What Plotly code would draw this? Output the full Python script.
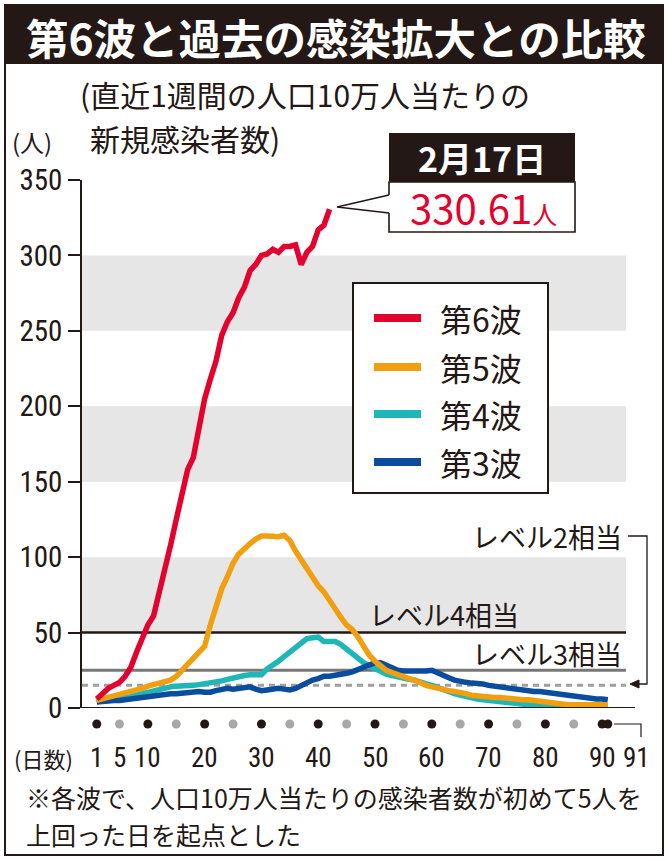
import plotly.graph_objects as go

# ---------------- data ----------------
series_names = ["第6波", "第5波", "第4波", "第3波"]
series_colors = ["#e5002d", "#f29f0f", "#1fb6b8", "#0a4d9e"]

wave6 = [6, 10, 13, 15, 17, 21, 27, 37, 47, 55,
         61, 76, 92, 108, 125, 142, 158, 166, 185, 205,
         218, 230, 247, 256, 262, 272, 279, 290, 294, 300,
         301, 304, 302, 306, 306, 307, 294, 302, 306, 317,
         320, 330.61]

wave5 = [5, 6, 7, 7.5, 8.5, 9.5, 11, 12, 13, 14.5,
         15.5, 16.5, 17.5, 18.5, 21, 25, 29, 33, 37, 41,
         55, 67, 79, 87, 96, 102, 106, 109, 112, 114,
         114, 113.5, 113.5, 114.5, 111, 104, 98, 93, 86, 81,
         77, 71, 66, 60, 55, 52, 47, 41, 35, 31,
         27.5, 25, 23.5, 22, 21, 19.5, 18.5, 16.5, 15, 14,
         13, 12.5, 11.5, 11, 10.5, 9.5, 8.5, 8, 7.5, 7.5,
         7, 7, 6.5, 6, 6, 5.5, 5.5, 5, 4.5, 3.5,
         3, 2.5, 2.3, 2.2, 2.2, 2.2, 2.2, 2.2, 2.2, 2.2,
         2.2]

wave4 = [4.5, 5, 5.5, 6, 6, 6.5, 7.5, 8.5, 9.5, 10.5,
         11, 12, 13, 14, 14.5, 14.5, 15, 15, 15.5, 16,
         16.5, 17, 18, 19, 20, 21, 21.5, 22, 22, 22,
         26, 28, 31, 34, 37, 41, 44, 46, 46.5, 47,
         44, 44, 44, 42, 39, 35, 33, 30, 28, 26,
         24, 22.5, 21.5, 20.5, 20, 19, 18.5, 17, 16, 15,
         13.5, 12.5, 11, 9.5, 8.5, 7.5, 6.5, 6, 5.5, 5,
         4.5, 4, 3.5, 3, 2.8, 2.5, 2.2, 2, 1.5, 1.2,
         1, 0.9, 0.9, 0.8, 0.8, 0.8, 0.8, 0.8, 0.8, 0.8,
         0.8]

wave3 = [4, 4.5, 4.5, 5, 5, 5.5, 6, 6.5, 7, 8,
         8.5, 9, 9, 9.5, 9.5, 10, 10, 10.5, 11, 10.5,
         10.5, 11.5, 12.5, 13, 12.5, 13, 13, 14, 12.5, 11.5,
         12, 12.5, 13, 12.5, 12, 13, 15, 17, 18.5, 19.5,
         21, 21, 21.5, 22, 23, 24, 25.5, 27, 28.5, 30,
         30, 28, 26, 25, 24.5, 24.5, 24, 24, 24.5, 25,
         23, 21.5, 20, 18.5, 17.5, 17, 16.5, 16.5, 16, 15,
         14.5, 13.5, 13, 12.5, 12, 12, 11.5, 11, 11, 10.5,
         10, 9, 8.5, 8, 7.5, 7, 6.5, 6.5, 6, 6,
         5.5]

level_values = [50, 25, 15]
level_names = ["レベル4相当", "レベル3相当", "レベル2相当"]
band_ranges = [(50, 100), (150, 200), (250, 300)]
y_ticks = [0, 50, 100, 150, 200, 250, 300, 350]
dot_days = [1, 5, 10, 15, 20, 25, 30, 35, 40, 45, 50, 55, 60, 65, 70, 75, 80, 85, 90, 91]
label_days = [1, 5, 10, 20, 30, 40, 50, 60, 70, 80, 90]
last_day_label = 91
latest_date = "2月17日"

# ---------------- geometry helpers ----------------
W_FIG, H_FIG = 669, 860
L, R, T = 82, 43, 180
AREA_BOTTOM = 745          # bottom of the whole plotting region (dot row included)
AXIS_ZERO = 708            # pixel row of y = 0
B = H_FIG - AREA_BOTTOM
PW = W_FIG - L - R
PH = AREA_BOTTOM - T

def px(x):
    return (x - L) / PW

def py(y):
    return (AREA_BOTTOM - y) / PH

CJK = "Noto Sans CJK JP"
NUM = "Liberation Sans Narrow, Roboto Condensed, Arial Narrow, Liberation Sans, sans-serif"
INK = "#231815"

fig = go.Figure()

waves = [wave6, wave5, wave4, wave3]
draw_order = [2, 3, 1, 0]
for i in draw_order:
    vals = waves[i]
    fig.add_trace(go.Scatter(
        x=list(range(1, len(vals) + 1)), y=vals, mode="lines",
        name=series_names[i], line=dict(color=series_colors[i], width=5.5),
        showlegend=False, hoverinfo="skip"))

# day dots below the axis (own small axis under the main one)
dot_colors = [INK if (d == 1 or d % 10 == 0 or d == last_day_label) else "#a8a8a8" for d in dot_days]
fig.add_trace(go.Scatter(
    x=dot_days, y=[-16] * len(dot_days), mode="markers", yaxis="y2",
    marker=dict(color=dot_colors, size=9, line=dict(width=0)),
    showlegend=False, hoverinfo="skip"))

shapes = []
for lo, hi in band_ranges:
    shapes.append(dict(type="rect", xref="paper", yref="y", x0=0, x1=1, y0=lo, y1=hi,
                       fillcolor="#e6e6e6", line=dict(width=0), layer="below"))
level_styles = [dict(color=INK, width=2.5), dict(color="#777777", width=3),
                dict(color="#a0a0a0", width=3, dash="6px,5px")]
for v, st in zip(level_values, level_styles):
    shapes.append(dict(type="line", xref="paper", yref="y", x0=0, x1=1, y0=v, y1=v,
                       line=st, layer="below"))
shapes.append(dict(type="line", xref="paper", yref="y", x0=px(70), x1=px(635), y0=0, y1=0,
                   line=dict(color=INK, width=2)))

def path(points, close=False):
    s = "M " + " L ".join(f"{px(a):.5f},{py(b):.5f}" for a, b in points)
    return s + (" Z" if close else "")

shapes.append(dict(type="path", xref="paper", yref="paper",
                   path=path([(628, 536), (647, 536), (647, 684), (636, 684)]),
                   line=dict(color=INK, width=1.3)))
shapes.append(dict(type="path", xref="paper", yref="paper",
                   path=path([(630, 684), (639, 680), (639, 688)], close=True),
                   fillcolor=INK, line=dict(color=INK, width=1)))
shapes.append(dict(type="path", xref="paper", yref="paper",
                   path=path([(614, 724), (641, 724), (641, 737)]),
                   line=dict(color=INK, width=1.2)))

# legend box
shapes.append(dict(type="rect", xref="paper", yref="paper", x0=px(353), x1=px(548),
                   y0=py(493), y1=py(283), fillcolor="white", line=dict(color=INK, width=2),
                   layer="above"))
legend_y = [318, 367, 414, 462]
for ly, c in zip(legend_y, series_colors):
    shapes.append(dict(type="line", xref="paper", yref="paper", x0=px(374), x1=px(421),
                       y0=py(ly), y1=py(ly), line=dict(color=c, width=8), layer="above"))

# callout
shapes.append(dict(type="rect", xref="paper", yref="paper", x0=px(389), x1=px(575),
                   y0=py(182), y1=py(133), fillcolor=INK, line=dict(width=0)))
shapes.append(dict(type="rect", xref="paper", yref="paper", x0=px(389), x1=px(575),
                   y0=py(232), y1=py(182), fillcolor="white", line=dict(width=0)))
shapes.append(dict(type="path", xref="paper", yref="paper",
                   path=path([(389, 195), (389, 182), (575, 182), (575, 232), (389, 232), (389, 213)]),
                   line=dict(color=INK, width=1.6)))
shapes.append(dict(type="path", xref="paper", yref="paper",
                   path=path([(389, 195), (337, 207), (389, 213)]),
                   line=dict(color=INK, width=1.6)))

# title bar and frame
shapes.append(dict(type="rect", xref="paper", yref="paper", x0=px(5), x1=px(663),
                   y0=py(64), y1=py(5), fillcolor=INK, line=dict(width=0)))
shapes.append(dict(type="rect", xref="paper", yref="paper", x0=px(5), x1=px(663),
                   y0=py(855), y1=py(5), line=dict(color=INK, width=2)))

ann = []
def text(x, y, s, size, color=INK, family=CJK, xanchor="left", yanchor="middle"):
    ann.append(dict(x=px(x), y=py(y), xref="paper", yref="paper", text=s, showarrow=False,
                    font=dict(family=family, size=size, color=color),
                    xanchor=xanchor, yanchor=yanchor, align="left"))

text(336, 36, "<b>第6波と過去の感染拡大との比較</b>", 42.5, color="white", xanchor="center")
text(78, 94, "(直近1週間の人口10万人当たりの", 30)
text(88, 138, "新規感染者数)", 30)
text(10, 141, "(人)", 24)
text(12, 758, "(日数)", 22)
text(24, 797, "※各波で、人口10万人当たりの感染者数が初めて5人を", 25)
text(24, 834, "上回った日を起点とした", 25)

for name, ly in zip(series_names, legend_y):
    text(438, ly, name, 32)

text(624, 536, level_names[2], 27, xanchor="right")
text(521, 614, level_names[0], 27, xanchor="right")
text(624, 653, level_names[1], 27, xanchor="right")

text(482, 157, f"<b>{latest_date}</b>", 34, color="white", xanchor="center")
text(483, 207, f"{wave6[-1]:.2f}<span style='font-size:25px'>人</span>", 40,
     color=series_colors[0], xanchor="center")

for d in label_days:
    ann.append(dict(x=d, y=py(758), xref="x", yref="paper", text=str(d), showarrow=False,
                    font=dict(family=NUM, size=27, color=INK), xanchor="center", yanchor="middle"))
ann.append(dict(x=last_day_label, y=py(758), xref="x", yref="paper", text=str(last_day_label),
                showarrow=False, xshift=29,
                font=dict(family=NUM, size=27, color=INK), xanchor="center", yanchor="middle"))

zero_frac = (AREA_BOTTOM - AXIS_ZERO) / PH
fig.update_layout(
    width=W_FIG, height=H_FIG,
    margin=dict(l=L, r=R, t=T, b=B, pad=0),
    paper_bgcolor="white", plot_bgcolor="rgba(0,0,0,0)",
    shapes=shapes, annotations=ann, showlegend=False,
    xaxis=dict(range=[-1.6, 94.2], visible=False, fixedrange=True),
    yaxis=dict(domain=[zero_frac, 1], range=[0, 350], tickvals=y_ticks, ticks="outside",
               ticklen=12, tickwidth=1.5, tickcolor=INK, showline=True, linecolor=INK,
               linewidth=1.5, showgrid=False, zeroline=False,
               tickfont=dict(family=NUM, size=29, color=INK), fixedrange=True),
    yaxis2=dict(domain=[0, zero_frac], range=[-(AREA_BOTTOM - AXIS_ZERO), 0], visible=False,
                fixedrange=True),
)

fig.write_html("out.html", config={"displayModeBar": False},
               post_script="document.body.style.margin='0';")
